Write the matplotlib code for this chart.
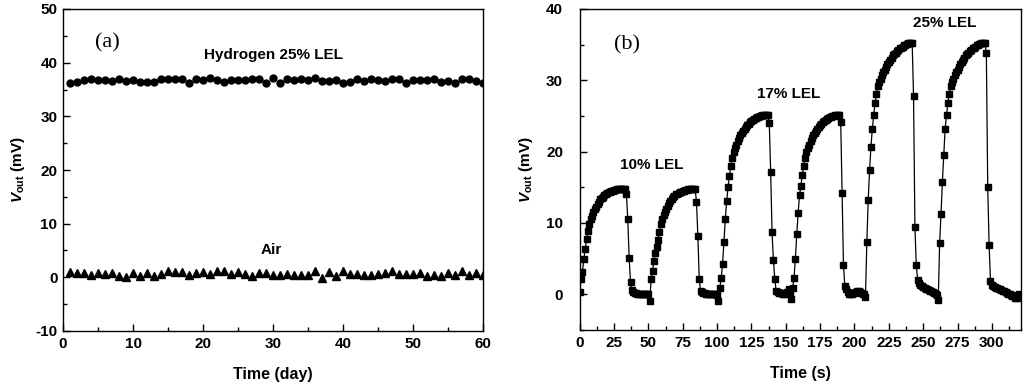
import numpy as np
import matplotlib
matplotlib.use("Agg")
import matplotlib.pyplot as plt
from matplotlib.ticker import MultipleLocator

plt.rcParams['font.family'] = ['Liberation Sans', 'DejaVu Sans']
plt.rcParams['font.weight'] = 'bold'
plt.rcParams['axes.unicode_minus'] = False
plt.rcParams['mathtext.fontset'] = 'custom'
plt.rcParams['mathtext.rm'] = 'Liberation Sans:bold'
plt.rcParams['mathtext.it'] = 'Liberation Sans:bold:italic'
plt.rcParams['mathtext.bf'] = 'Liberation Sans:bold'

# ---------------- Panel (a): long-term stability ----------------
days = list(range(1, 61))
hydrogen_mV = [36.2, 36.4, 36.7, 37.0, 36.8, 36.8, 36.5, 37.0, 36.5, 36.7,
               36.4, 36.4, 36.4, 37.0, 37.0, 36.9, 36.9, 36.3, 36.9, 36.7,
               37.1, 36.8, 36.4, 36.8, 36.8, 36.8, 37.0, 36.9, 36.2, 37.2,
               36.3, 37.0, 36.7, 37.0, 36.8, 37.1, 36.6, 36.5, 36.7, 36.3,
               36.4, 36.9, 36.5, 36.9, 36.8, 36.5, 37.0, 37.0, 36.3, 36.8,
               36.8, 36.8, 37.0, 36.4, 36.5, 36.3, 36.9, 36.9, 36.5, 36.3]
air_mV = [1.0, 0.9, 0.9, 0.4, 0.9, 0.6, 0.9, 0.2, 0.1, 0.9,
          0.2, 0.9, 0.2, 0.7, 1.1, 1.0, 1.0, 0.4, 0.9, 1.0,
          0.6, 1.2, 1.1, 0.7, 1.0, 0.7, 0.2, 0.9, 0.9, 0.4,
          0.5, 0.7, 0.5, 0.5, 0.5, 1.1, -0.1, 1.0, 0.2, 1.2,
          0.6, 0.6, 0.4, 0.4, 0.7, 0.9, 1.2, 0.6, 0.7, 0.7,
          0.9, 0.2, 0.4, 0.2, 0.9, 0.4, 1.1, 0.5, 0.9, 0.4]

# ---------------- Panel (b): response cycles (1 s sampling) ----------------
cycle1_10pct = [0.3, 2.1, 3.2, 4.9, 6.4, 7.7, 8.9, 9.9,
                10.5, 11.0, 11.5, 11.9, 12.3, 12.7, 13.0, 13.3, 13.5, 13.7, 13.9, 14.1, 14.2,
                14.3, 14.4, 14.5, 14.5, 14.6, 14.6, 14.7, 14.7, 14.8, 14.8, 14.8, 14.8, 14.8,
                14.0, 10.5, 5.1, 1.7, 0.6, 0.3,
                0.2, 0.2, 0.1, 0.1, 0.1, 0.1, 0.1, 0.1, 0.0, 0.1, 0.1,
                -0.9]
cycle2_10pct = [2.1, 3.3, 4.7, 5.8, 6.6, 7.6, 8.8, 9.8,
                10.5, 11.1, 11.6, 12.0, 12.4, 12.8, 13.1, 13.4, 13.6, 13.8, 14.0, 14.1, 14.2,
                14.3, 14.4, 14.5, 14.5, 14.6, 14.6, 14.7, 14.7, 14.8, 14.8, 14.8, 14.8,
                13.0, 8.2, 2.2, 0.4,
                0.3, 0.2, 0.2, 0.1, 0.1, 0.1, 0.1, 0.0, 0.0, 0.0, 0.0, -0.1,
                -0.9]
cycle3_17pct = [0.9, 2.3, 4.3, 7.4, 10.6, 13.1, 15.1, 16.6, 18.0, 19.1,
                19.9, 20.5, 21.0, 21.5, 21.9, 22.3, 22.6, 22.9, 23.2, 23.5, 23.7, 23.9, 24.1,
                24.3, 24.5, 24.6, 24.7, 24.8, 24.9, 25.0, 25.0, 25.1, 25.1, 25.2, 25.2, 25.2,
                24.0, 17.2, 8.7, 4.8, 2.2, 0.4,
                0.3, 0.2, 0.2, 0.2, 0.1, 0.1, 0.2, 0.3, 0.8, 0.1,
                -0.7]
cycle4_17pct = [0.9, 2.3, 5.0, 8.4, 11.4, 13.9, 15.2, 16.7, 18.0, 19.1,
                19.9, 20.5, 21.0, 21.5, 21.9, 22.3, 22.6, 22.9, 23.2, 23.5, 23.7, 23.9, 24.1,
                24.3, 24.5, 24.6, 24.7, 24.8, 24.9, 25.0, 25.0, 25.1, 25.1, 25.2, 25.2,
                24.1, 14.2, 4.1, 1.1,
                0.8, 0.3, 0.1, 0.1, 0.1, 0.2, 0.2, 0.3, 0.4, 0.4, 0.3, 0.2, 0.1, 0.0,
                -0.4]
cycle5_25pct = [7.3, 13.2, 17.4, 20.7, 23.2, 25.1, 26.8, 28.1, 29.2,
                29.7, 30.2, 30.7, 31.1, 31.5, 31.9, 32.3, 32.6, 32.9, 33.2, 33.5, 33.7, 33.9,
                34.1, 34.3, 34.5, 34.6, 34.7, 34.9, 35.0, 35.1, 35.2, 35.2, 35.3, 35.3,
                27.8, 9.5, 4.1, 2.0,
                1.6, 1.3, 1.1, 1.0, 0.9, 0.8, 0.7, 0.6, 0.5, 0.4, 0.3, 0.2, 0.1, -0.1,
                -0.8]
cycle6_25pct = [7.2, 11.3, 15.8, 19.6, 23.2, 25.1, 26.8, 28.1, 29.2,
                29.7, 30.2, 30.7, 31.1, 31.5, 31.9, 32.3, 32.6, 32.9, 33.2, 33.5, 33.7, 33.9,
                34.1, 34.3, 34.5, 34.6, 34.7, 34.9, 35.0, 35.1, 35.2, 35.2, 35.3, 35.3,
                33.8, 15.0, 6.9, 1.9,
                1.3, 1.1, 1.0, 0.9, 0.9, 0.8, 0.7, 0.6, 0.5, 0.4, 0.3, 0.2, 0.1, 0.0,
                -0.1, -0.2, -0.3, -0.5, -0.5,
                -0.1, 0.0]
sample_interval_s = 1.0
vout_mV = (cycle1_10pct + cycle2_10pct + cycle3_17pct + cycle4_17pct
           + cycle5_25pct + cycle6_25pct)
time_s = np.arange(len(vout_mV)) * sample_interval_s

fig = plt.figure(figsize=(10.24, 3.85), dpi=100)
axA = fig.add_axes([63 / 1024, 1 - 331 / 385, 420 / 1024, 322 / 385])
axB = fig.add_axes([579.7 / 1024, 1 - 330 / 385, 441 / 1024, 321 / 385])

def style(ax, ypad):
    for s in ax.spines.values():
        s.set_linewidth(1.0)
    ax.tick_params(which='both', direction='in', top=False, right=False,
                   labelsize=11)
    ax.tick_params(axis='x', which='both', pad=4)
    ax.tick_params(axis='y', which='both', pad=ypad)
    ax.tick_params(which='major', length=5, width=1)
    ax.tick_params(which='minor', length=3, width=1)
    for lbl in ax.get_xticklabels() + ax.get_yticklabels():
        lbl.set_fontweight('bold')

# Panel (a)
axA.plot(days, hydrogen_mV, 'o', color='black', markersize=5.0, linestyle='none')
axA.plot(days, air_mV, '^', color='black', markersize=5.4, linestyle='none')
axA.set_xlim(0, 60)
axA.set_ylim(-10, 50)
axA.xaxis.set_major_locator(MultipleLocator(10))
axA.xaxis.set_minor_locator(MultipleLocator(5))
axA.yaxis.set_major_locator(MultipleLocator(10))
axA.yaxis.set_minor_locator(MultipleLocator(5))
style(axA, 4)
axA.set_xlabel('Time (day)', fontsize=11.5, fontweight='bold', labelpad=12)
axA.set_ylabel(r'$V_{\rm out}$ (mV)', fontsize=11, fontweight='bold', labelpad=6)
axA.text(4.6, 43.7, '(a)', family='Liberation Serif', fontweight='normal',
         fontsize=16, ha='left', va='center')
axA.text(30, 41.4, 'Hydrogen 25% LEL', fontsize=11, fontweight='bold',
         ha='center', va='center')
axA.text(29.8, 5.1, 'Air', fontsize=11, fontweight='bold', ha='center', va='center')

# Panel (b)
axB.plot(time_s, vout_mV, '-s', color='black', markersize=4.5, linewidth=0.9)
axB.set_xlim(0, 321)
axB.set_ylim(-5, 40)
axB.xaxis.set_major_locator(MultipleLocator(25))
axB.xaxis.set_minor_locator(MultipleLocator(12.5))
axB.yaxis.set_major_locator(MultipleLocator(10))
axB.yaxis.set_minor_locator(MultipleLocator(5))
style(axB, 12)
axB.set_xlabel('Time (s)', fontsize=11.5, fontweight='bold', labelpad=12)
axB.set_ylabel(r'$V_{\rm out}$ (mV)', fontsize=11, fontweight='bold', labelpad=8)
axB.text(24.7, 35.0, '(b)', family='Liberation Serif', fontweight='normal',
         fontsize=16, ha='left', va='center')
axB.text(52.6, 18.1, '10% LEL', fontsize=11, fontweight='bold', ha='center', va='center')
axB.text(152.1, 28.1, '17% LEL', fontsize=11, fontweight='bold', ha='center', va='center')
axB.text(265.4, 38.0, '25% LEL', fontsize=11, fontweight='bold', ha='center', va='center')

fig.savefig('out.png', dpi=100)
